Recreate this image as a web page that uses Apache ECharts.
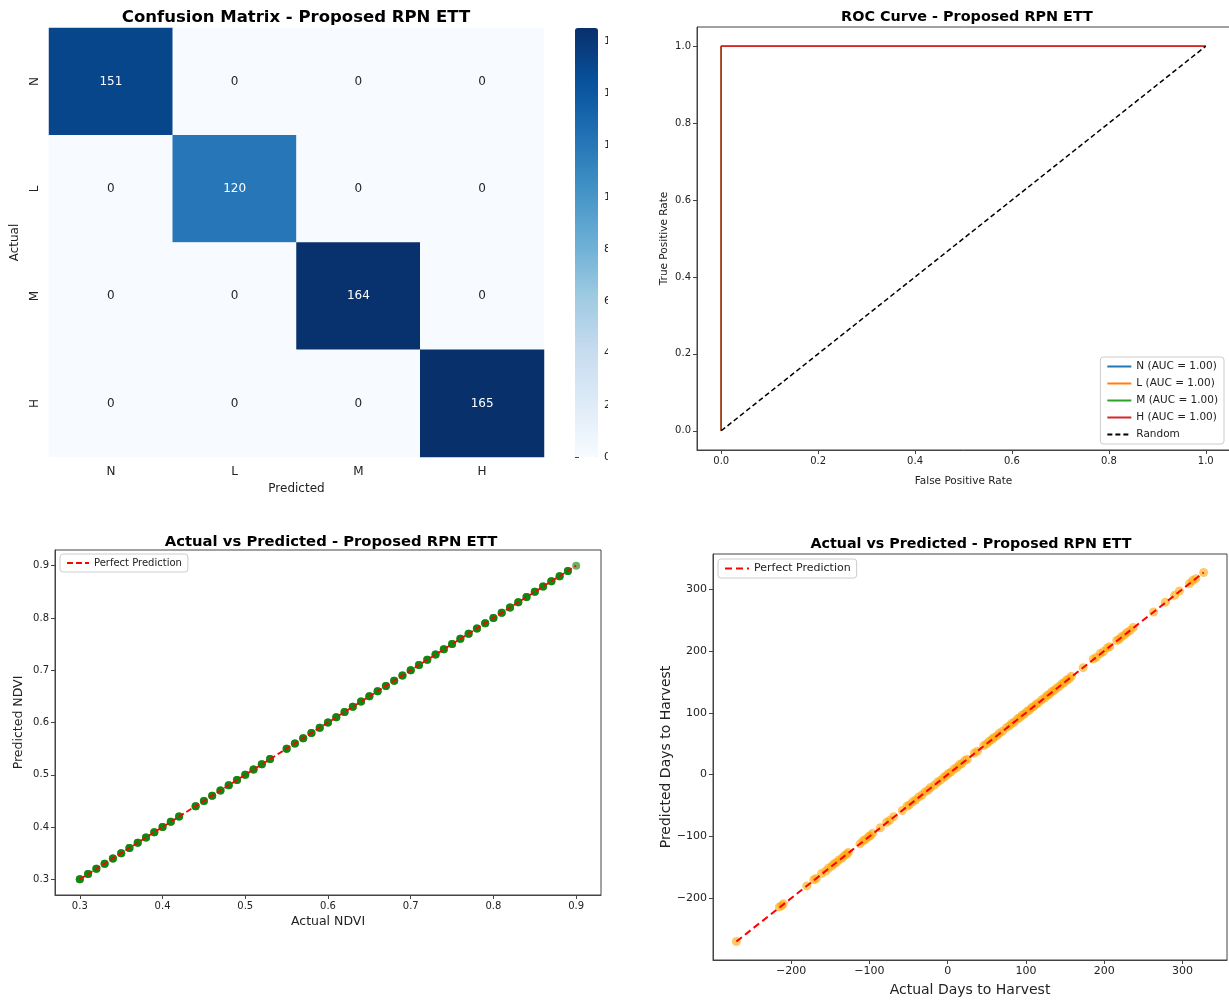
<!DOCTYPE html>
<html>
<head>
<meta charset="utf-8">
<script src="https://cdn.jsdelivr.net/npm/echarts@6/dist/echarts.min.js"></script>
<style>
  body { margin: 0; background: #fff; }
  .panel { position: absolute; left: 0; top: 0; height: 1001px; }
</style>
</head>
<body>
<div id="cm" class="panel" style="width:608px"></div>
<div id="roc" class="panel" style="width:1229px"></div>
<div id="ndvi" class="panel" style="width:1229px"></div>
<div id="days" class="panel" style="width:1229px"></div>
<script>
// confusion matrix
const classLabels = ['N', 'L', 'M', 'H'];
const confusion = [
  [151, 0, 0, 0],
  [0, 120, 0, 0],
  [0, 0, 164, 0],
  [0, 0, 0, 165]
];
const colorbarTicks = [0, 20, 40, 60, 80, 100, 120, 140, 160];
const blues = ['#f7fbff', '#deebf7', '#c6dbef', '#9ecae1', '#6baed6', '#4292c6', '#2171b5', '#08519c', '#08306b'];

// roc
const rocNames = ['N (AUC = 1.00)', 'L (AUC = 1.00)', 'M (AUC = 1.00)', 'H (AUC = 1.00)'];
const rocColors = ['#1f77b4', '#ff7f0e', '#2ca02c', '#d62728'];
const rocFpr = [[0, 0, 1], [0, 0, 1], [0, 0, 1], [0, 0, 1]];
const rocTpr = [[0, 1, 1], [0, 1, 1], [0, 1, 1], [0, 1, 1]];
const randomLine = [[0, 0], [1, 1]];
const rocTicks = [0, 0.2, 0.4, 0.6, 0.8, 1.0];

// ndvi
const ndviActual = [0.30, 0.31, 0.32, 0.33, 0.34, 0.35, 0.36, 0.37, 0.38, 0.39, 0.40, 0.41, 0.42,
  0.44, 0.45, 0.46, 0.47, 0.48, 0.49, 0.50, 0.51, 0.52, 0.53,
  0.55, 0.56, 0.57, 0.58, 0.59, 0.60, 0.61, 0.62, 0.63, 0.64, 0.65, 0.66, 0.67, 0.68, 0.69,
  0.70, 0.71, 0.72, 0.73, 0.74, 0.75, 0.76, 0.77, 0.78, 0.79, 0.80, 0.81, 0.82, 0.83, 0.84,
  0.85, 0.86, 0.87, 0.88, 0.89, 0.90];
const ndviPredicted = [0.30, 0.31, 0.32, 0.33, 0.34, 0.35, 0.36, 0.37, 0.38, 0.39, 0.40, 0.41, 0.42,
  0.44, 0.45, 0.46, 0.47, 0.48, 0.49, 0.50, 0.51, 0.52, 0.53,
  0.55, 0.56, 0.57, 0.58, 0.59, 0.60, 0.61, 0.62, 0.63, 0.64, 0.65, 0.66, 0.67, 0.68, 0.69,
  0.70, 0.71, 0.72, 0.73, 0.74, 0.75, 0.76, 0.77, 0.78, 0.79, 0.80, 0.81, 0.82, 0.83, 0.84,
  0.85, 0.86, 0.87, 0.88, 0.89, 0.90];
const ndviCounts = [3, 3, 3, 3, 3, 3, 3, 3, 3, 3, 3, 3, 3,
  3, 3, 3, 3, 3, 3, 3, 3, 3, 3,
  3, 3, 3, 3, 3, 3, 3, 3, 3, 3, 3, 3, 3, 3, 3,
  3, 3, 3, 3, 3, 3, 3, 3, 3, 3, 3, 3, 3, 3, 3,
  3, 3, 3, 3, 3, 1];
const ndviTicks = [0.3, 0.4, 0.5, 0.6, 0.7, 0.8, 0.9];

// days to harvest
const daysActual = [-270, -215, -212, -210, -180, -171, -168, -161, -156, -152, -148, -145, -142, -139, -135,
  -132, -129, -127, -112, -108, -105, -101, -99, -96, -86, -78, -74, -69, -58, -52, -49, -45, -41, -37,
  -33, -29, -25, -22, -17, -13, -9, -5, -2, 1, 4, 8, 12, 15, 18, 22, 25, 34, 38, 46, 50, 53, 57, 59, 63,
  66, 70, 75, 79, 82, 85, 89, 92, 95, 98, 101, 104, 107, 110, 113, 116, 120, 124, 127, 130, 133, 136,
  139, 143, 146, 149, 152, 155, 158, 173, 186, 190, 195, 199, 204, 207, 216, 219, 222, 226, 229, 233,
  237, 263, 278, 290, 296, 309, 313, 317, 327];
const daysPredicted = [-270, -214, -212, -209, -180, -170, -168, -160, -156, -151, -148, -144, -142, -138, -135,
  -131, -129, -126, -112, -107, -105, -100, -99, -95, -86, -77, -74, -68, -58, -51, -49, -44, -41, -36,
  -33, -28, -25, -21, -17, -12, -9, -4, -2, 2, 4, 9, 12, 16, 18, 23, 25, 35, 38, 47, 50, 54, 57, 60, 63,
  67, 70, 76, 79, 83, 85, 90, 92, 96, 98, 102, 104, 108, 110, 114, 116, 121, 124, 128, 130, 134, 136,
  140, 143, 147, 149, 153, 155, 159, 173, 187, 190, 196, 199, 205, 207, 217, 219, 223, 226, 230, 233,
  238, 263, 279, 290, 297, 309, 314, 317, 327];
const daysRange = [-270, 327];
const daysTicks = [-200, -100, 0, 100, 200, 300];

const font = 'DejaVu Sans';
const ink = '#222';
const spine = '#444';

function tickStyle(size) {
  return { color: ink, fontFamily: font, fontSize: size };
}

function valueAxis(min, max, ticks, fmt, labelSize, name, nameSize, nameGap, vertical) {
  return {
    type: 'value', min: min, max: max,
    name: name, nameLocation: 'middle', nameGap: nameGap, nameRotate: vertical ? 90 : 0,
    nameTextStyle: tickStyle(nameSize),
    axisLine: { onZero: false, lineStyle: { color: spine } },
    axisTick: { length: 4, customValues: ticks, lineStyle: { color: spine } },
    axisLabel: Object.assign({ customValues: ticks, formatter: fmt, margin: 6 }, tickStyle(labelSize)),
    splitLine: { show: false }
  };
}

// ---------- confusion matrix ----------
function drawConfusion() {
  let chart = echarts.init(document.getElementById('cm'));
  let cells = [];
  confusion.forEach((row, i) => {
    row.forEach((v, j) => {
      cells.push({
        value: [j, i, v],
        label: { color: v > 60 ? '#fff' : '#262626' }
      });
    });
  });
  let option = {
    animation: false,
    title: {
      text: 'Confusion Matrix - Proposed RPN ETT',
      left: 291, top: 4, textAlign: 'center',
      textStyle: { fontFamily: font, fontSize: 16.5, fontWeight: 'bold', color: '#000' }
    },
    grid: [
      { left: 49, top: 28, width: 495, height: 429, outerBoundsMode: 'none' },
      { left: 575, top: 28, width: 23, height: 429, outerBoundsMode: 'none' }
    ],
    xAxis: [
      {
        type: 'category', gridIndex: 0, data: classLabels,
        name: 'Predicted', nameLocation: 'middle', nameGap: 26,
        nameTextStyle: tickStyle(12),
        axisLine: { show: false },
        axisTick: { alignWithLabel: true, length: 4, lineStyle: { color: spine } },
        axisLabel: Object.assign({ margin: 9 }, tickStyle(12)),
        splitLine: { show: false }
      },
      { type: 'value', gridIndex: 1, show: false, min: 0, max: 1 }
    ],
    yAxis: [
      {
        type: 'category', gridIndex: 0, data: classLabels, inverse: true,
        name: 'Actual', nameLocation: 'middle', nameGap: 26, nameRotate: 90,
        nameTextStyle: tickStyle(12),
        axisLine: { show: false },
        axisTick: { alignWithLabel: true, length: 4, lineStyle: { color: spine } },
        axisLabel: Object.assign({ rotate: 90, margin: 8 }, tickStyle(12)),
        splitLine: { show: false }
      },
      {
        type: 'value', gridIndex: 1, position: 'right', min: 0, max: 165,
        axisLine: { show: false },
        axisTick: { show: true, length: 4, customValues: colorbarTicks, lineStyle: { color: spine } },
        axisLabel: Object.assign({ customValues: colorbarTicks, margin: 6 }, tickStyle(11)),
        splitLine: { show: false }
      }
    ],
    visualMap: {
      type: 'continuous', min: 0, max: 165, calculable: false,
      left: 575, top: 28, itemWidth: 23, itemHeight: 429, padding: 0,
      showLabel: false, text: null, seriesIndex: 0,
      inRange: { color: blues }
    },
    series: [
      {
        type: 'heatmap', xAxisIndex: 0, yAxisIndex: 0, data: cells,
        label: { show: true, fontFamily: font, fontSize: 12 },
        itemStyle: { borderWidth: 0 },
        emphasis: { disabled: true }
      }
    ]
  };
  chart.setOption(option);
}

// ---------- roc ----------
function drawRoc() {
  let chart = echarts.init(document.getElementById('roc'));
  let series = rocNames.map((name, k) => ({
    name: name, type: 'line', symbol: 'none',
    data: rocFpr[k].map((x, i) => [x, rocTpr[k][i]]),
    lineStyle: { color: rocColors[k], width: 1.6 },
    itemStyle: { color: rocColors[k] }
  }));
  series.push({
    name: 'Random', type: 'line', symbol: 'none', data: randomLine,
    lineStyle: { color: '#000', width: 1.5, type: [5, 3] },
    itemStyle: { color: '#000' }
  });
  let fmt = v => v.toFixed(1);
  let option = {
    animation: false,
    title: {
      text: 'ROC Curve - Proposed RPN ETT',
      left: 962, top: 5, textAlign: 'center',
      textStyle: { fontFamily: font, fontSize: 14.4, fontWeight: 'bold', color: '#000' }
    },
    grid: { left: 697, top: 27, width: 533, height: 423, show: true, borderColor: spine, borderWidth: 1, outerBoundsMode: 'none' },
    legend: {
      orient: 'vertical', right: 5, bottom: 557, itemWidth: 24, itemHeight: 10, itemGap: 6,
      padding: [4, 6, 4, 6],
      backgroundColor: '#fff', borderColor: '#ccc', borderWidth: 1, borderRadius: 3,
      itemStyle: { opacity: 0 },
      textStyle: tickStyle(10.5),
      data: rocNames.concat(['Random'])
    },
    xAxis: valueAxis(-0.05, 1.05, rocTicks, fmt, 10, 'False Positive Rate', 10.5, 26, false),
    yAxis: valueAxis(-0.05, 1.05, rocTicks, fmt, 10, 'True Positive Rate', 10.5, 27, true),
    series: series
  };
  chart.setOption(option);
}

// ---------- ndvi ----------
function drawNdvi() {
  let chart = echarts.init(document.getElementById('ndvi'));
  let pts = [];
  ndviActual.forEach((x, i) => {
    for (let c = 0; c < ndviCounts[i]; c++) pts.push([x, ndviPredicted[i]]);
  });
  let lo = Math.min(...ndviActual), hi = Math.max(...ndviActual);
  let fmt = v => v.toFixed(1);
  let option = {
    animation: false,
    title: {
      text: 'Actual vs Predicted - Proposed RPN ETT',
      left: 326, top: 530, textAlign: 'center',
      textStyle: { fontFamily: font, fontSize: 14.8, fontWeight: 'bold', color: '#000' }
    },
    grid: { left: 55, top: 550, width: 546, height: 345, show: true, borderColor: spine, borderWidth: 1, outerBoundsMode: 'none' },
    legend: {
      left: 60, top: 554, itemWidth: 22, itemHeight: 8, padding: [4, 6, 4, 6],
      backgroundColor: '#fff', borderColor: '#ccc', borderWidth: 1, borderRadius: 3,
      itemStyle: { opacity: 0 },
      textStyle: tickStyle(10),
      data: ['Perfect Prediction']
    },
    xAxis: valueAxis(0.27, 0.93, ndviTicks, fmt, 10, 'Actual NDVI', 12.5, 20, false),
    yAxis: valueAxis(0.27, 0.93, ndviTicks, fmt, 10, 'Predicted NDVI', 12.5, 30, true),
    series: [
      {
        type: 'scatter', symbolSize: 8, data: pts,
        itemStyle: { color: 'green', opacity: 0.6 }
      },
      {
        name: 'Perfect Prediction', type: 'line', symbol: 'none', z: 5,
        data: [[lo, lo], [hi, hi]],
        lineStyle: { color: '#ff0000', width: 1.8, type: [6, 3] },
        itemStyle: { color: '#ff0000' }
      }
    ]
  };
  chart.setOption(option);
}

// ---------- days to harvest ----------
function drawDays() {
  let chart = echarts.init(document.getElementById('days'));
  let pts = daysActual.map((x, i) => [x, daysPredicted[i]]);
  let minus = v => String(v).replace('-', '\u2212');
  let option = {
    animation: false,
    title: {
      text: 'Actual vs Predicted - Proposed RPN ETT',
      left: 966, top: 532, textAlign: 'center',
      textStyle: { fontFamily: font, fontSize: 14.3, fontWeight: 'bold', color: '#000' }
    },
    grid: { left: 713, top: 554, width: 514, height: 406, show: true, borderColor: spine, borderWidth: 1, outerBoundsMode: 'none' },
    legend: {
      left: 718, top: 559, itemWidth: 24, itemHeight: 8, padding: [4, 6, 4, 6],
      backgroundColor: '#fff', borderColor: '#ccc', borderWidth: 1, borderRadius: 3,
      itemStyle: { opacity: 0 },
      textStyle: tickStyle(11),
      data: ['Perfect Prediction']
    },
    xAxis: valueAxis(-299.85, 356.85, daysTicks, minus, 11, 'Actual Days to Harvest', 14, 23, false),
    yAxis: valueAxis(-299.85, 356.85, daysTicks, minus, 11, 'Predicted Days to Harvest', 14, 37, true),
    series: [
      {
        type: 'scatter', symbolSize: 9, data: pts,
        itemStyle: { color: 'orange', opacity: 0.6 }
      },
      {
        name: 'Perfect Prediction', type: 'line', symbol: 'none', z: 5,
        data: [[daysRange[0], daysRange[0]], [daysRange[1], daysRange[1]]],
        lineStyle: { color: '#ff0000', width: 2, type: [7, 4] },
        itemStyle: { color: '#ff0000' }
      }
    ]
  };
  chart.setOption(option);
}

drawConfusion();
drawRoc();
drawNdvi();
drawDays();
</script>
</body>
</html>
